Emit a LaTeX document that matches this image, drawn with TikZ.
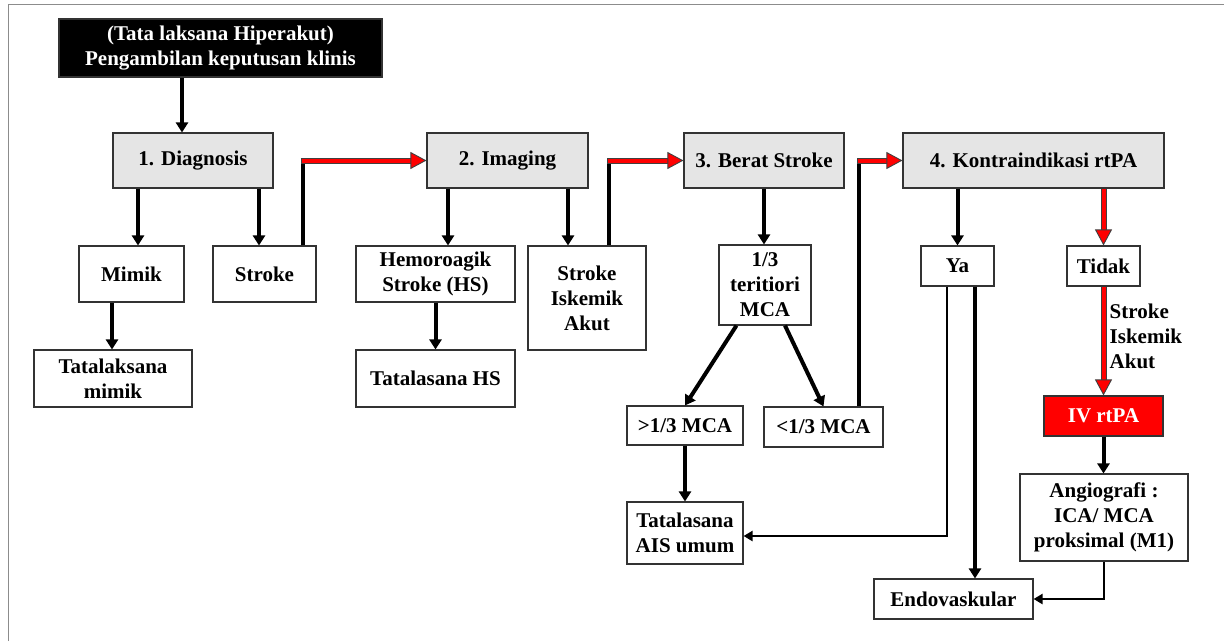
\documentclass[tikz,border=0pt]{standalone}
\usepackage{fontspec}
\setmainfont{Liberation Serif}
\usetikzlibrary{arrows.meta}

\tikzset{
  box/.style={draw=black!80, line width=1.1pt, align=center, inner sep=1pt,
    font=\fontsize{21}{25}\selectfont\bfseries},
  stepbox/.style={box, fill=black!10, minimum height=55pt},
  arr/.style={line width=4pt, -{Triangle[length=10pt,width=12pt]}},
  thinarr/.style={line width=2.6pt, -{Triangle[length=9pt,width=10pt]}},
  seg/.style={line width=4pt},
  redrim/.style={line width=6pt, draw=black!75, shorten >=10pt},
  redarr/.style={line width=4pt, draw=red,
    -{Triangle[length=16pt,width=17pt,color=black!75,fill=red,line width'=0.9pt]}},
  frame/.style={draw=black!45, line width=1pt},
  lbl/.style={align=left, inner sep=1pt, font=\fontsize{21}{25}\selectfont\bfseries}
}

\begin{document}
\begin{tikzpicture}[x=1pt, y=-1pt]
  \useasboundingbox (0,0) rectangle (1224,641);
  \draw[frame] (8,641) -- (8,4) -- (1224,4);

  % langkah utama
  \node[box, fill=black, text=white, minimum width=323pt, minimum height=58pt] (top) at (220.5,48)
    {(Tata laksana Hiperakut)\\Pengambilan keputusan klinis};
  \node[stepbox, minimum width=160pt] (diag) at (193,160.5) {1. Diagnosis};
  \node[stepbox, minimum width=161pt] (imaging) at (507.5,160.5) {2. Imaging};
  \node[stepbox, minimum width=160pt] (berat) at (764,160.5) {3. Berat Stroke};
  \node[stepbox, minimum width=261pt] (kontra) at (1033.5,160.5) {4. Kontraindikasi rtPA};

  % cabang
  \node[box, minimum width=105pt, minimum height=56pt] (mimik) at (131.5,274) {Mimik};
  \node[box, minimum width=103pt, minimum height=56pt] (stroke) at (264.5,274) {Stroke};
  \node[box, minimum width=159pt, minimum height=56pt] (hemo) at (435.5,274) {Hemoroagik\\Stroke (HS)};
  \node[box, minimum width=118pt, minimum height=104pt] (sia) at (587,298) {Stroke\\Iskemik\\Akut};
  \node[box, minimum width=158pt, minimum height=57pt] (tmimik) at (113,378.5) {Tatalaksana\\mimik};
  \node[box, minimum width=159pt, minimum height=57pt] (ths) at (435.5,378.5) {Tatalasana HS};
  \node[box, minimum width=92pt, minimum height=80pt] (mca) at (765,285) {1/3\\teritiori\\MCA};
  \node[box, minimum width=116pt, minimum height=39pt] (gt) at (685,425.5) {>1/3 MCA};
  \node[box, minimum width=119pt, minimum height=40pt] (lt) at (823.5,427) {<1/3 MCA};
  \node[box, minimum width=116pt, minimum height=62pt] (ais) at (685,533) {Tatalasana\\AIS umum};
  \node[box, minimum width=73pt, minimum height=40pt] (ya) at (957.5,266) {Ya};
  \node[box, minimum width=73pt, minimum height=40pt] (tidak) at (1103.5,266) {Tidak};
  \node[box, fill=red, text=white, minimum width=119pt, minimum height=40pt] (iv) at (1103.5,416) {IV rtPA};
  \node[box, minimum width=168pt, minimum height=87pt] (angio) at (1104,517.5) {Angiografi :\\ICA/ MCA\\proksimal (M1)};
  \node[box, minimum width=159pt, minimum height=40pt] (endo) at (953.5,599) {Endovaskular};

  % panah hitam
  \draw[arr] ([xshift=-11pt]diag.north |- top.south) -- ([xshift=-11pt]diag.north);
  \draw[arr] ([xshift=6.5pt]mimik.north |- diag.south) -- ([xshift=6.5pt]mimik.north);
  \draw[arr] ([xshift=-5.5pt]stroke.north |- diag.south) -- ([xshift=-5.5pt]stroke.north);
  \draw[arr] ([xshift=-1pt]tmimik.north |- mimik.south) -- ([xshift=-1pt]tmimik.north);
  \draw[arr] ([xshift=12.5pt]hemo.north |- imaging.south) -- ([xshift=12.5pt]hemo.north);
  \draw[arr] ([xshift=-19pt]sia.north |- imaging.south) -- ([xshift=-19pt]sia.north);
  \draw[arr] (ths.north |- hemo.south) -- (ths.north);
  \draw[arr] (berat.south) -- (berat.south |- mca.north);
  \draw[arr] ([xshift=18pt]mca.south west) -- (gt.north);
  \draw[arr] ([xshift=20pt]mca.south) -- (lt.north);
  \draw[arr] (gt.south) -- (ais.north);
  \draw[arr] (ya.north |- kontra.south) -- (ya.north);
  \draw[arr] ([xshift=17.5pt]ya.south) -- ([xshift=17.5pt]ya.south |- endo.north);
  \draw[arr] (iv.south) -- (iv.south |- angio.north);
  \draw[thinarr] ([xshift=-10.5pt]ya.south) |- ([yshift=-3pt]ais.east);
  \draw[thinarr] (angio.south) |- (endo.east);

  % panah merah
  \coordinate (s1) at ([xshift=-14pt]stroke.north east);
  \coordinate (k1) at (s1 |- imaging.west);
  \draw[seg] (s1) -- ([yshift=2.5pt]k1);
  \draw[redrim] ([xshift=-2pt]k1) -- (imaging.west);
  \draw[redarr] ([xshift=-1pt]k1) -- (imaging.west);

  \coordinate (s2) at ([xshift=22pt]sia.north);
  \coordinate (k2) at (s2 |- berat.west);
  \draw[seg] (s2) -- ([yshift=2.5pt]k2);
  \draw[redrim] ([xshift=-2pt]k2) -- (berat.west);
  \draw[redarr] ([xshift=-1pt]k2) -- (berat.west);

  \coordinate (s3) at ([xshift=35.5pt]lt.north);
  \coordinate (k3) at (s3 |- kontra.west);
  \draw[seg] (s3) -- ([yshift=2.5pt]k3);
  \draw[redrim] ([xshift=-2pt]k3) -- (kontra.west);
  \draw[redarr] ([xshift=-1pt]k3) -- (kontra.west);

  \draw[redrim] (tidak.north |- kontra.south) -- (tidak.north);
  \draw[redarr] (tidak.north |- kontra.south) -- (tidak.north);
  \draw[redrim] (tidak.south) -- (iv.north);
  \draw[redarr] (tidak.south) -- (iv.north);
  \path (tidak.south) -- (iv.north) node[lbl, pos=0.46, right=5pt] {Stroke\\Iskemik\\Akut};
\end{tikzpicture}
\end{document}
